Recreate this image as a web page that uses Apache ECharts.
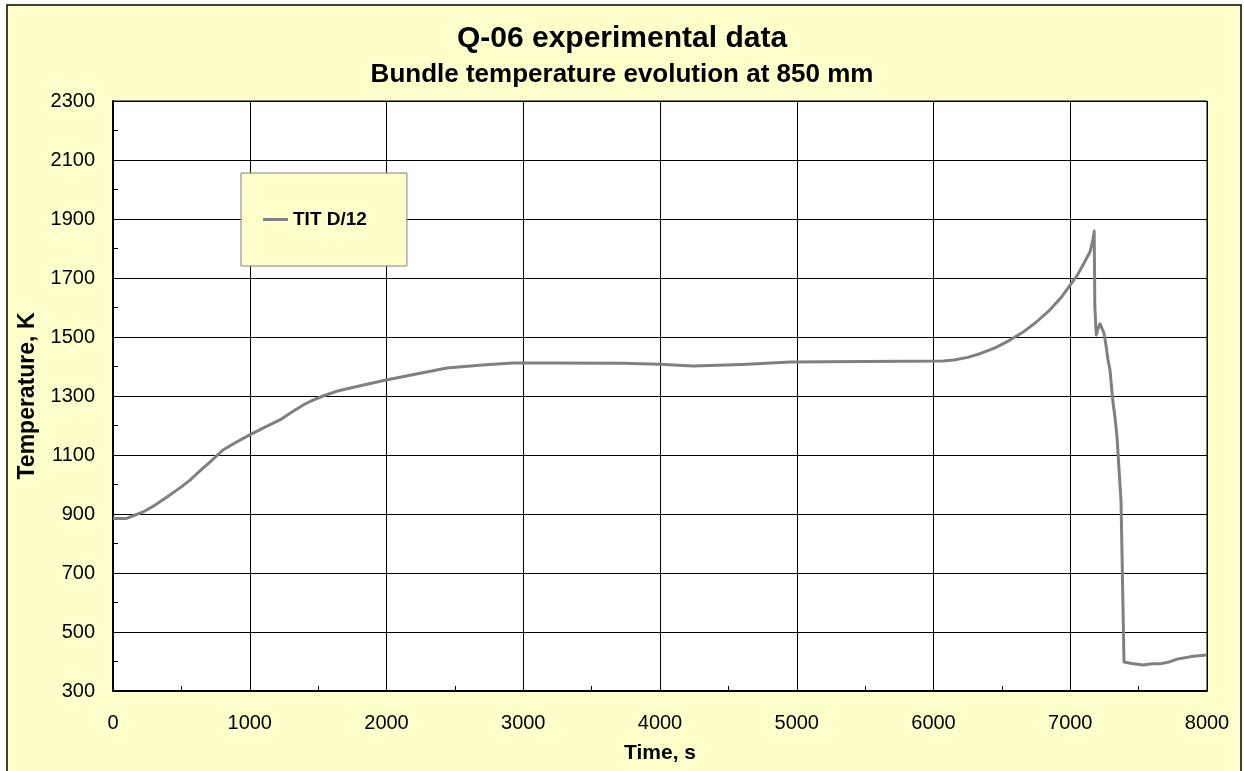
<!DOCTYPE html>
<html><head><meta charset="utf-8">
<script src="https://cdn.jsdelivr.net/npm/echarts@6/dist/echarts.min.js"></script>
<style>html,body{margin:0;padding:0;background:#fff}#c{width:1244px;height:771px}</style>
</head><body><div id="c"></div>
<script>
const timeS = [0,100,220,300,395,500,563,650,709,804,904,1000,1100,1221,1300,1400,1463,1536,1650,1800,1996,2200,2442,2700,2925,3196,3731,4000,4243,4600,4952,5500,6072,6150,6250,6350,6450,6550,6650,6750,6852,6930,6998,7050,7093,7144,7166,7175,7180,7190,7205,7218,7232,7246,7262,7276,7290,7313,7327,7342,7357,7371,7378,7385,7393,7450,7532,7600,7656,7720,7781,7900,8000];
const tempK = [885,885,907,928,958,992,1015,1052,1076,1117,1144,1168,1192,1219,1243,1272,1286,1300,1318,1334,1354,1373,1395,1405,1412,1412,1411,1408,1402,1407,1415,1417,1419,1422,1431,1445,1463,1487,1515,1550,1592,1632,1675,1708,1744,1788,1829,1859,1602,1507,1530,1545,1551,1514,1470,1422,1390,1276,1229,1161,1049,947,778,600,398,393,388,392,392,398,408,418,422];
const seriesName = 'TIT D/12';
const titleText = 'Q-06 experimental data';
const subtitleText = 'Bundle temperature evolution at 850 mm';
const xName = 'Time, s';
const yName = 'Temperature, K';

const FONT = 'Arial, "Liberation Sans", sans-serif';
const chart = echarts.init(document.getElementById('c'));
const data = timeS.map((t,i)=>[t,tempK[i]]);
chart.setOption({
  backgroundColor:'#fff',
  animation:false,
  graphic:[{type:'rect',z:-10,silent:true,shape:{x:7,y:5,width:1234,height:770},style:{fill:'#FFFFCC',stroke:'#000',lineWidth:1.5}}],
  title:[
    {text:titleText,left:'center',top:19,textStyle:{fontFamily:FONT,fontSize:30,fontWeight:'bold',color:'#000'}},
    {text:subtitleText,left:'center',top:57,textStyle:{fontFamily:FONT,fontSize:26,fontWeight:'bold',color:'#000'}}
  ],
  legend:{left:241,top:173,orient:'vertical',padding:[37,40,37,22],backgroundColor:'#FFFFCC',borderColor:'#808080',borderWidth:1,
    itemWidth:25,itemHeight:14,itemGap:4,icon:'path://M0,6L25,6L25,9L0,9Z',
    textStyle:{fontFamily:FONT,fontSize:19,fontWeight:'bold',color:'#000'},data:[seriesName]},
  grid:{left:113,right:37,top:101,bottom:80,show:true,backgroundColor:'#fff',borderColor:'#000',borderWidth:1,containLabel:false},
  xAxis:{type:'value',min:0,max:8000,interval:1000,name:xName,nameLocation:'middle',nameGap:52,
    nameTextStyle:{fontFamily:FONT,fontSize:21,fontWeight:'bold',color:'#000'},
    axisLine:{lineStyle:{color:'#000',width:2}},axisTick:{inside:true,length:5,lineStyle:{color:'#000'}},
    minorTick:{show:true,splitNumber:2,length:5,lineStyle:{color:'#000'}},
    axisLabel:{margin:22,fontFamily:FONT,fontSize:20,color:'#000',formatter:v=>String(v)},
    splitLine:{show:true,lineStyle:{color:'#000',width:1}}},
  yAxis:{type:'value',min:300,max:2300,interval:200,name:yName,nameLocation:'middle',nameGap:73,
    nameTextStyle:{fontFamily:FONT,fontSize:23,fontWeight:'bold',color:'#000'},
    axisLine:{show:true,lineStyle:{color:'#000',width:2}},axisTick:{show:true,inside:true,length:5,lineStyle:{color:'#000'}},
    minorTick:{show:true,splitNumber:2,length:5,lineStyle:{color:'#000'}},
    axisLabel:{margin:18,fontFamily:FONT,fontSize:20,color:'#000',formatter:v=>String(v)},
    splitLine:{show:true,lineStyle:{color:'#000',width:1}}},
  series:[{name:seriesName,type:'line',data:data,showSymbol:false,symbol:'none',smooth:false,
    lineStyle:{color:'#808080',width:3,join:'round'},itemStyle:{color:'#808080'}}]
});
</script></body></html>
